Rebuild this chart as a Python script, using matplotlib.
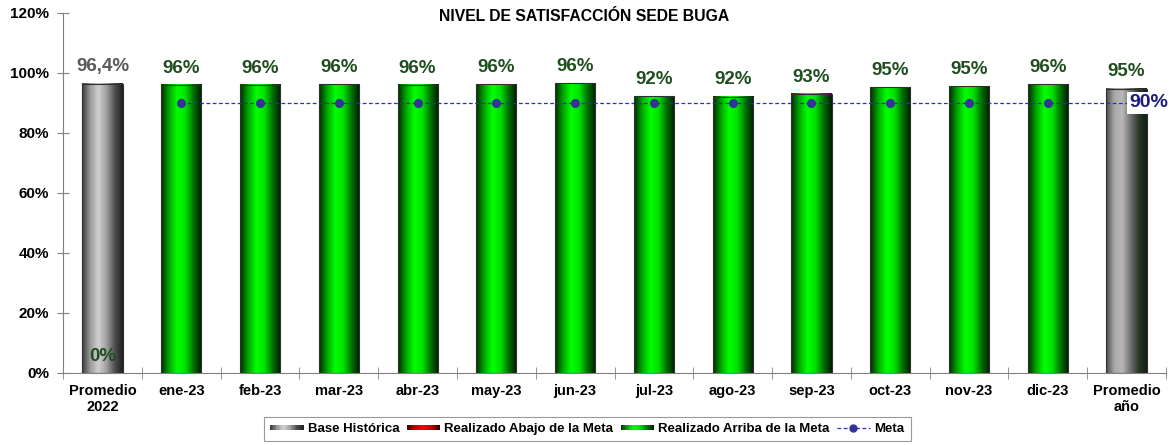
import numpy as np
import matplotlib.pyplot as plt
from matplotlib.colors import LinearSegmentedColormap
from matplotlib.patches import Rectangle
from matplotlib.legend_handler import HandlerBase
from matplotlib.lines import Line2D

plt.rcParams['font.family'] = ['Liberation Sans', 'DejaVu Sans']
plt.rcParams['font.weight'] = 'bold'

categorias = ['Promedio\n2022', 'ene-23', 'feb-23', 'mar-23', 'abr-23', 'may-23', 'jun-23',
              'jul-23', 'ago-23', 'sep-23', 'oct-23', 'nov-23', 'dic-23', 'Promedio\naño']
base_historica = [96.4, None, None, None, None, None, None, None, None, None, None, None, None, 94.8]
arriba_meta = [0, 96, 96, 96.2, 96, 96.3, 96.5, 92.3, 92.1, 93, 95.3, 95.6, 96.3, None]
etiquetas_arriba = ['0%', '96%', '96%', '96%', '96%', '96%', '96%', '92%', '92%', '93%', '95%', '95%', '96%', None]
etiqueta_base = ['96,4%', '95%']
meta = [None, 90, 90, 90, 90, 90, 90, 90, 90, 90, 90, 90, 90, 90]

cmap_verde = LinearSegmentedColormap.from_list('verde', ['#002a00', '#00a800', '#00ff00', '#00e000', '#007000', '#001a00'])
cmap_gris = LinearSegmentedColormap.from_list('gris', ['#3a3a3a', '#9a9a9a', '#d0d0d0', '#a0a0a0', '#505050', '#1e1e1e'])
cmap_gris2 = LinearSegmentedColormap.from_list('gris2', ['#4a4a4a', '#a8a8a8', '#b8b8b8', '#707070', '#2a3a2a', '#102010'])
cmap_rojo = LinearSegmentedColormap.from_list('rojo', ['#300000', '#c00000', '#ff0000', '#c00000', '#300000'])

fig = plt.figure(figsize=(11.69, 4.45), dpi=100)
ax = fig.add_axes([0.054, 0.162, 0.9434, 0.809])

x = np.arange(len(categorias))
ancho = 0.51
grad = np.linspace(0, 1, 200).reshape(1, -1)


def barra(xc, h, cmap):
    ax.imshow(grad, extent=[xc - ancho / 2, xc + ancho / 2, 0, h], aspect='auto',
              cmap=cmap, zorder=2, interpolation='bilinear')
    ax.add_patch(Rectangle((xc - ancho / 2, 0), ancho, h, fill=False,
                           edgecolor='#303030', lw=0.8, zorder=3))


for i, v in enumerate(base_historica):
    if v is not None:
        barra(x[i], v, cmap_gris if i == 0 else cmap_gris2)
for i, v in enumerate(arriba_meta):
    if v:
        barra(x[i], v, cmap_verde)

# etiquetas
for i, t in enumerate(etiquetas_arriba):
    if t is None:
        continue
    y = arriba_meta[i]
    ax.annotate(t, (x[i], y), xytext=(0, 6), textcoords='offset points', ha='center',
                va='bottom', fontsize=13.5, fontweight='bold', color='#1f4e1f', zorder=5)
ax.annotate(etiqueta_base[0], (x[0], base_historica[0]), xytext=(0, 6), textcoords='offset points',
            ha='center', va='bottom', fontsize=13.5, fontweight='bold', color='#595959', zorder=5)
ax.annotate(etiqueta_base[1], (x[-1], base_historica[-1]), xytext=(0, 6), textcoords='offset points',
            ha='center', va='bottom', fontsize=13.5, fontweight='bold', color='#1f4e1f', zorder=5)

# meta
xm = [x[i] for i, v in enumerate(meta) if v is not None]
ym = [v for v in meta if v is not None]
ax.plot(xm, ym, color='#2b2bcc', lw=0.9, ls=(0, (3, 2)), zorder=4)
ax.plot(xm[:-1], ym[:-1], 'o', color='#333399', ms=5.5, zorder=4)
ax.annotate('90%', (x[-1], ym[-1]), xytext=(16, 0), textcoords='offset points', ha='center',
            va='center', fontsize=14, fontweight='bold', color='#1a1a80', zorder=6,
            bbox=dict(boxstyle='square,pad=0.12', fc='white', ec='none'))

ax.set_xlim(-0.5, len(categorias) - 0.5)
ax.set_ylim(0, 120)
ax.set_yticks(np.arange(0, 121, 20))
ax.set_yticklabels([f'{v}%' for v in range(0, 121, 20)], fontsize=11, fontweight='bold')
ax.set_xticks(x)
ax.set_xticklabels(categorias, fontsize=10.5, fontweight='bold')
ax.set_xticks(np.arange(-0.5, len(categorias)), minor=True)
ax.tick_params(axis='x', which='major', length=0, pad=8)
ax.tick_params(axis='x', which='minor', direction='inout', length=8, color='#808080')
ax.tick_params(axis='y', direction='inout', length=8, color='#808080', pad=6)
for s in ['top', 'right']:
    ax.spines[s].set_visible(False)
for s in ['left', 'bottom']:
    ax.spines[s].set_color('#808080')

fig.text(0.5, 0.962, 'NIVEL DE SATISFACCIÓN SEDE BUGA', ha='center', va='center',
         fontsize=11.3, fontweight='bold')


class HandlerGradiente(HandlerBase):
    def __init__(self, cmap):
        super().__init__()
        self.cmap = cmap

    def create_artists(self, legend, orig_handle, xdescent, ydescent, width, height, fontsize, trans):
        n = 24
        arts = []
        for k in range(n):
            r = Rectangle((-xdescent + width * k / n, -ydescent + height * 0.2), width / n + 0.3,
                          height * 0.62, facecolor=self.cmap((k + 0.5) / n), edgecolor='none',
                          transform=trans)
            arts.append(r)
        return arts


h1, h2, h3 = Rectangle((0, 0), 1, 1), Rectangle((0, 0), 1, 1), Rectangle((0, 0), 1, 1)
h4 = Line2D([], [], color='#2b2bcc', lw=0.9, ls=(0, (3, 2)), marker='o', ms=5, mfc='#333399', mec='#333399')
leg = fig.legend([h1, h2, h3, h4],
                 ['Base Histórica', 'Realizado Abajo de la Meta', 'Realizado Arriba de la Meta', 'Meta'],
                 handler_map={h1: HandlerGradiente(cmap_gris), h2: HandlerGradiente(cmap_rojo),
                              h3: HandlerGradiente(cmap_verde)},
                 loc='upper center', bbox_to_anchor=(0.5026, 0.063), ncol=4, fontsize=9.5, frameon=True,
                 fancybox=False, edgecolor='#808080', handlelength=2.5, handletextpad=0.35,
                 columnspacing=0.55, borderpad=0.45, borderaxespad=0)
leg.get_frame().set_linewidth(0.8)
for t in leg.get_texts():
    t.set_fontweight('bold')

fig.savefig('out.png', dpi=100)
